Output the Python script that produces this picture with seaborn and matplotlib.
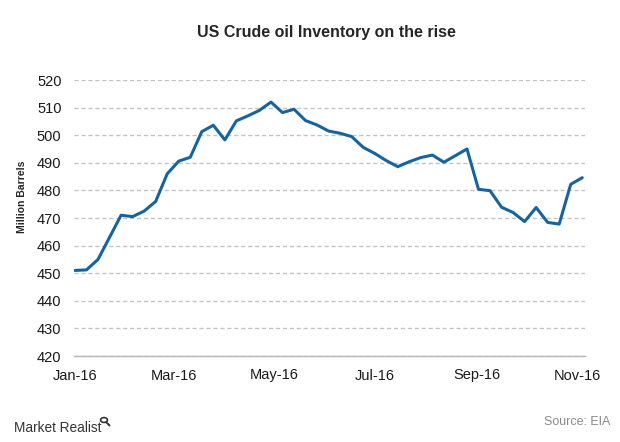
import seaborn as sns
import matplotlib.pyplot as plt
import matplotlib.dates as mdates
import matplotlib.patches as mpatches
import pandas as pd

# weekly US crude inventory, million barrels
inventory = [
    451.0, 451.2, 455.0, 463.0, 471.0, 470.5, 472.5, 476.0, 486.0, 490.6,
    492.0, 501.3, 503.6, 498.3, 505.2, 507.0, 509.0, 512.0, 508.2, 509.4,
    505.3, 503.7, 501.5, 500.7, 499.5, 495.6, 493.4, 490.8, 488.6, 490.4,
    491.9, 492.8, 490.2, 492.6, 495.0, 480.4, 479.9, 473.9, 472.0, 468.7,
    473.8, 468.4, 467.8, 482.2, 484.6,
]
weeks = pd.date_range("2016-01-01", periods=len(inventory), freq="7D")
tick_dates = pd.to_datetime(["2016-01-01", "2016-03-01", "2016-05-01",
                             "2016-07-01", "2016-09-01", "2016-11-01"])
y_ticks = list(range(420, 521, 10))

df = pd.DataFrame({"Week": weeks, "Inventory": inventory})

sns.set_style("white")
plt.rcParams["font.family"] = ["Liberation Sans", "DejaVu Sans"]

fig = plt.figure(figsize=(6.2, 4.42), dpi=100)
ax = fig.add_axes([74 / 620, 1 - 356 / 442, 511 / 620, 276 / 442])

sns.lineplot(data=df, x="Week", y="Inventory", ax=ax,
             color="#1763a0", linewidth=2.2)

ax.set_ylim(420, 520)
ax.set_yticks(y_ticks)
ax.set_xlim(pd.Timestamp("2015-12-31 10:00"), pd.Timestamp("2016-11-05 16:00"))
ax.set_xticks(tick_dates)
ax.xaxis.set_major_formatter(mdates.DateFormatter("%b-%y"))
ax.set_xlabel("")
ax.set_ylabel("")

ax.grid(axis="y", color="#c4c4c4", linestyle=(0, (3, 2)), linewidth=1)
ax.grid(axis="x", visible=False)
for side in ["top", "right", "left"]:
    ax.spines[side].set_visible(False)
ax.spines["bottom"].set_color("#b5b5b5")
ax.spines["bottom"].set_linewidth(1)
ax.tick_params(axis="both", length=0, labelsize=10.5, colors="#1a1a1a")
ax.tick_params(axis="x", pad=9)
ax.tick_params(axis="y", pad=9)

fig.text(326 / 620, 1 - 32 / 442, "US Crude oil Inventory on the rise",
         ha="center", va="center", fontsize=11.5, fontweight="bold")
fig.text(22 / 620, 1 - 197 / 442, "Million Barrels", rotation=90,
         ha="center", va="center", fontsize=7.5, fontweight="bold")

# footer
fig.text(14 / 620, 1 - 428 / 442, "Market Realist", ha="left", va="center",
         fontsize=9.8, color="#333333")
fig.text(610 / 620, 1 - 422 / 442, "Source: EIA", ha="right", va="center",
         fontsize=9, color="#8a8a8a")
fig.patches.append(mpatches.Circle((104 / 620, 1 - 420 / 442), 0.0055,
                                   transform=fig.transFigure, fill=False,
                                   edgecolor="#333333", linewidth=1.2))
fig.lines.append(plt.Line2D([106.5 / 620, 109.5 / 620],
                            [1 - 422.5 / 442, 1 - 425.5 / 442],
                            transform=fig.transFigure, color="#333333",
                            linewidth=1.4))

fig.savefig("out.png", dpi=100)
